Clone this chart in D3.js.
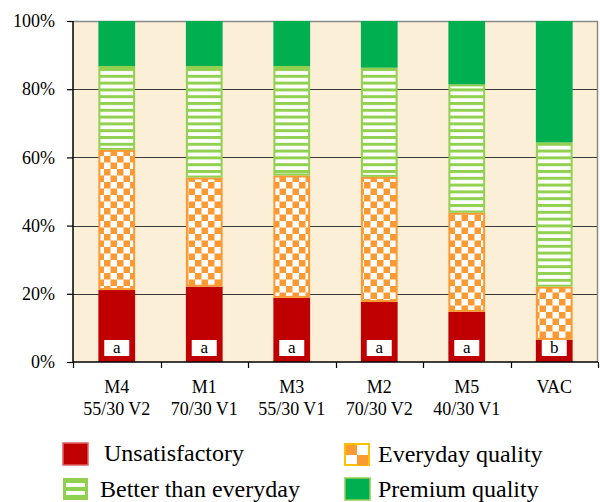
<!DOCTYPE html>
<html><head><meta charset="utf-8">
<script src="https://cdn.jsdelivr.net/npm/d3@7"></script>
<style>
html,body{margin:0;padding:0;background:#fff;}
svg text{font-family:"Liberation Serif","Tinos","Times New Roman","DejaVu Serif",serif !important;}
</style></head>
<body>
<svg id="chart" width="600" height="502"></svg>
<script>
const categories = ["M4","M1","M3","M2","M5","VAC"];
const subLabels = ["55/30 V2","70/30 V1","55/30 V1","70/30 V2","40/30 V1",""];
const letters = ["a","a","a","a","a","b"];
const seriesNames = ["Unsatisfactory","Everyday quality","Better than everyday","Premium quality"];
const unsatisfactory = [21.1, 22.1, 18.8, 17.6, 14.7, 6.5];
const everyday = [41.1, 32.0, 35.9, 36.7, 29.1, 15.6];
const better = [24.6, 32.7, 32.1, 32.0, 37.6, 42.3];
const premium = [13.2, 13.2, 13.2, 13.7, 18.6, 35.6];
const yTicks = [0,20,40,60,80,100];

const keys = ["u","e","b","p"];
const table = categories.map((c,i)=>({cat:c,u:unsatisfactory[i],e:everyday[i],b:better[i],p:premium[i]}));

const svg = d3.select("#chart");
const m = {left:73, right:598, top:21, bottom:362};

const defs = svg.append("defs");
const chk = defs.append("pattern").attr("id","chk").attr("patternUnits","userSpaceOnUse")
  .attr("width",13).attr("height",13);
chk.append("rect").attr("width",13).attr("height",13).attr("fill","#ffffff");
chk.append("rect").attr("x",0).attr("y",0).attr("width",6.5).attr("height",6.5).attr("fill","#fb9a33");
chk.append("rect").attr("x",6.5).attr("y",6.5).attr("width",6.5).attr("height",6.5).attr("fill","#fb9a33");
const str = defs.append("pattern").attr("id","str").attr("patternUnits","userSpaceOnUse")
  .attr("width",10).attr("height",6.8);
str.append("rect").attr("width",10).attr("height",6.8).attr("fill","#ffffff");
str.append("rect").attr("width",10).attr("height",3).attr("fill","#92d050");

const fills = {u:"#c00000", e:"url(#chk)", b:"url(#str)", p:"#00b050"};
const strokes = {u:"#c00000", e:"#fb9a33", b:"#92d050", p:"#00b050"};

const x = d3.scaleBand().domain(categories).range([m.left,m.right]).paddingInner(0.58).paddingOuter(0.29);
const y = d3.scaleLinear().domain([0,100]).range([m.bottom,m.top]);

svg.append("rect").attr("x",m.left).attr("y",m.top).attr("width",m.right-m.left).attr("height",m.bottom-m.top)
  .attr("fill","#fcefd8");

svg.append("g").selectAll("line").data(yTicks.filter(t=>t>0&&t<100)).join("line")
  .attr("x1",m.left).attr("x2",m.right).attr("y1",d=>Math.round(y(d))+0.5).attr("y2",d=>Math.round(y(d))+0.5)
  .attr("stroke","#3a3a3a").attr("stroke-width",1.2);
svg.append("path").attr("d",`M${m.left},${m.top+0.5}H${m.right-0.5}V${m.bottom}`)
  .attr("fill","none").attr("stroke","#8a8a8a").attr("stroke-width",1.5);

const stack = d3.stack().keys(keys)(table);
const bw = x.bandwidth();
svg.append("g").selectAll("g").data(stack).join("g")
  .each(function(s){
    d3.select(this).selectAll("rect").data(s).join("rect")
      .attr("x",d=>x(d.data.cat)+1)
      .attr("y",d=>y(d[1])+1)
      .attr("width",bw-2)
      .attr("height",d=>Math.max(0,y(d[0])-y(d[1])-2))
      .attr("fill",fills[s.key])
      .attr("stroke",strokes[s.key]).attr("stroke-width",2);
  });

const lb = svg.append("g");
categories.forEach((c,i)=>{
  const cx = x(c)+bw/2;
  lb.append("rect").attr("x",cx-12.5).attr("y",m.bottom-22).attr("width",25).attr("height",16).attr("fill","#fff");
  lb.append("text").attr("x",cx).attr("y",m.bottom-9.5).attr("text-anchor","middle")
    .attr("font-size",17).attr("fill","#000").text(letters[i]);
});

const yAxis = d3.axisLeft(y).tickValues(yTicks).tickFormat(d=>d+"%").tickSize(6).tickPadding(12);
const ya = svg.append("g").attr("transform",`translate(${m.left},0)`).call(yAxis);
ya.attr("font-family",null);
ya.select(".domain").attr("stroke","#000").attr("stroke-width",1.5).attr("d",`M0,${m.top}V${m.bottom}`);
ya.selectAll(".tick line").attr("stroke","#000").attr("stroke-width",1.2);
ya.selectAll(".tick text").attr("font-size",18).attr("fill","#000");

const xb = d3.scaleLinear().domain([0,categories.length]).range([m.left,m.right]);
const xa = svg.append("g").attr("transform",`translate(0,${m.bottom})`);
xa.append("line").attr("x1",m.left).attr("x2",m.right).attr("y1",0).attr("y2",0).attr("stroke","#000").attr("stroke-width",1.5);
xa.selectAll(".xt").data(d3.range(categories.length+1)).join("line").attr("class","xt")
  .attr("x1",d=>Math.round(xb(d))+0.5).attr("x2",d=>Math.round(xb(d))+0.5).attr("y1",0).attr("y2",6)
  .attr("stroke","#000").attr("stroke-width",1.2);
categories.forEach((c,i)=>{
  const cx = x(c)+bw/2;
  xa.append("text").attr("x",cx).attr("y",31).attr("text-anchor","middle").attr("font-size",18).text(c);
  if(subLabels[i]) xa.append("text").attr("x",cx).attr("y",53).attr("text-anchor","middle").attr("font-size",18).text(subLabels[i]);
});

const legPos = [
  {k:"u", x:62, y:442, tx:104, ty:461},
  {k:"e", x:344, y:443, tx:378, ty:462},
  {k:"b", x:62, y:477, tx:100, ty:497},
  {k:"p", x:344, y:477, tx:378, ty:497}
];
const lg = svg.append("g");
legPos.forEach((p,i)=>{
  const sw = lg.append("g");
  if(p.k==="e"){
    sw.append("rect").attr("x",p.x+1).attr("y",p.y+1).attr("width",24).attr("height",21).attr("fill","#fff").attr("stroke","#ffc000").attr("stroke-width",2);
    sw.append("rect").attr("x",p.x+2).attr("y",p.y+2).attr("width",11).attr("height",10).attr("fill","#fb9a33");
    sw.append("rect").attr("x",p.x+13).attr("y",p.y+12).attr("width",11).attr("height",10).attr("fill","#fb9a33");
  } else if(p.k==="b"){
    sw.append("rect").attr("x",p.x+1).attr("y",p.y+1).attr("width",25).attr("height",22).attr("fill","#92d050");
    sw.append("rect").attr("x",p.x+4).attr("y",p.y+6).attr("width",19).attr("height",4).attr("fill","#fff");
    sw.append("rect").attr("x",p.x+4).attr("y",p.y+14).attr("width",19).attr("height",4).attr("fill","#fff");
  } else {
    sw.append("rect").attr("x",p.x+1).attr("y",p.y+1).attr("width",25).attr("height",22).attr("fill",fills[p.k])
      .attr("stroke",p.k==="p"?"#92d050":"#e06060").attr("stroke-width",1.5);
  }
  lg.append("text").attr("x",p.tx).attr("y",p.ty).attr("font-size",24).attr("fill","#000").text(seriesNames[keys.indexOf(p.k)]);
});
</script>
</body></html>
